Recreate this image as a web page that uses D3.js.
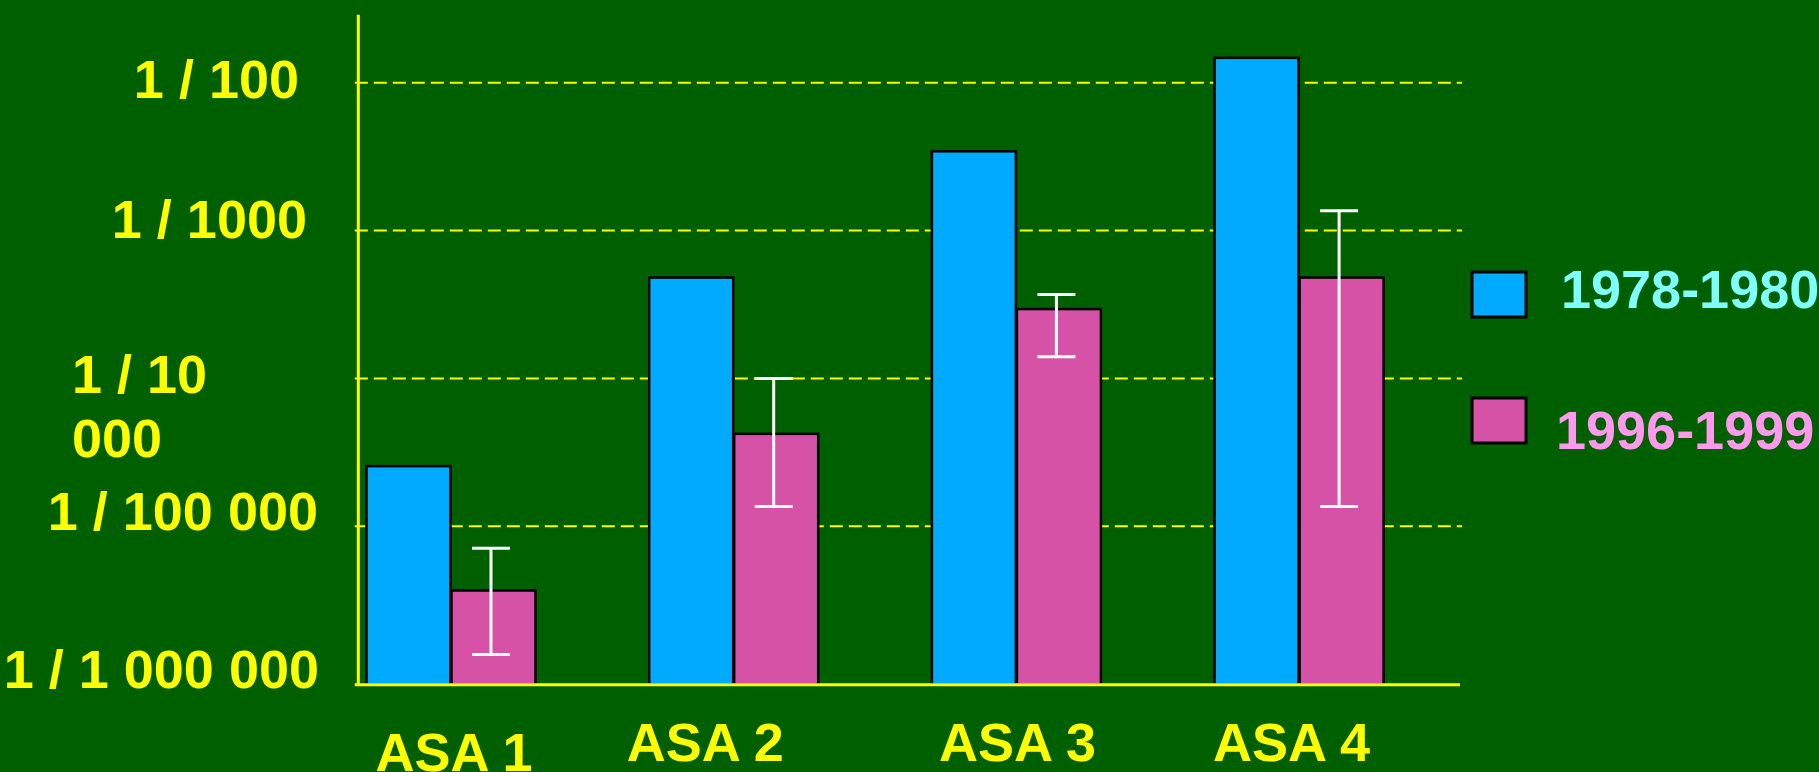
<!DOCTYPE html>
<html>
<head>
<meta charset="utf-8">
<script src="https://cdn.jsdelivr.net/npm/d3@7"></script>
<style>
  html, body { margin: 0; padding: 0; background: #006000; overflow: hidden; }
  svg { display: block; }
  text { font-family: "Liberation Sans", Arial, sans-serif; font-weight: bold; }
</style>
</head>
<body>
<svg id="chart" width="1819" height="772"></svg>
<script>
// ---- Data ----
const categories = ["ASA 1", "ASA 2", "ASA 3", "ASA 4"];
const seriesNames = ["1978-1980", "1996-1999"];
const values1978 = [2.6e-5, 4.9e-4, 3.5e-3, 1.5e-2];
const values1996 = [3.75e-6, 4.3e-5, 3.0e-4, 4.9e-4];
const errLow1996 = [1.36e-6, 1.36e-5, 1.4e-4, 1.36e-5];
const errHigh1996 = [7.1e-6, 1.0e-4, 3.7e-4, 1.36e-3];
const tickValues = [1e-2, 1e-3, 1e-4, 1e-5, 1e-6];
const tickLabels = [["1 / 100"], ["1 / 1000"], ["1 / 10", "000"], ["1 / 100 000"], ["1 / 1 000 000"]];

// ---- Layout / style ----
const colors = { bg: "#006000", axis: "#ffff00", s0: "#00aaff", s1: "#d652a6", err: "#ffffff",
                 leg0: "#80ffff", leg1: "#ff99ee" };
const fontSize = 54;
const plot = { left: 358.3, right: 1462, top: 14.8, bottom: 684.7 };
// per-tick label placement: [anchor, x, dy from tick]
const tickLabelLayout = [
  { anchor: "end", x: 299, dy: [15.6] },
  { anchor: "end", x: 307, dy: [7.3] },
  { anchor: "start", x: 72, dy: [15, 79] },
  { anchor: "end", x: 318, dy: [3.7] },
  { anchor: "end", x: 319, dy: [13.8] }
];
const catLabelDx = [3.5, -28, 1.7, -7];
const catLabelY = [771, 761, 761, 761];

const svg = d3.select("#chart");
svg.append("rect").attr("width", 1819).attr("height", 772).attr("fill", colors.bg);

// ---- Scales ----
const y = d3.scaleLog()
  .domain([Math.pow(10, -6.071), Math.pow(10, -1.541)])
  .range([plot.bottom, plot.top]);

const x = d3.scaleBand()
  .domain(categories)
  .range([365.5, 1383.6])
  .paddingInner(0.3987)
  .paddingOuter(0);

const xs = d3.scaleBand()
  .domain(seriesNames)
  .range([0, x.bandwidth()])
  .padding(0);

// ---- Gridlines ----
svg.append("g")
  .selectAll("line")
  .data(tickValues.slice(0, 4))
  .join("line")
  .attr("x1", plot.left - 3.5)
  .attr("x2", plot.right)
  .attr("y1", d => y(d))
  .attr("y2", d => y(d))
  .attr("stroke", colors.axis)
  .attr("stroke-width", 2)
  .attr("stroke-dasharray", "13,6");

// ---- Bars ----
const rows = categories.map((c, i) => ({
  cat: c,
  vals: [values1978[i], values1996[i]],
  lo: errLow1996[i],
  hi: errHigh1996[i]
}));
const seriesColors = [colors.s0, colors.s1];

const groups = svg.append("g").selectAll("g")
  .data(rows)
  .join("g")
  .attr("transform", d => `translate(${x(d.cat)},0)`);

groups.selectAll("rect")
  .data(d => d.vals.map((v, j) => ({ v, j })))
  .join("rect")
  .attr("x", d => xs(seriesNames[d.j]) + 1)
  .attr("width", xs.bandwidth() - 1)
  .attr("y", d => y(d.v) + 1.2)
  .attr("height", d => plot.bottom - y(d.v) - 1.2)
  .attr("fill", d => seriesColors[d.j])
  .attr("stroke", "#000")
  .attr("stroke-width", 2.5);

// ---- Error bars (second series) ----
const capHalf = 19;
groups.each(function (d) {
  const g = d3.select(this);
  const cx = xs(seriesNames[1]) + xs.bandwidth() / 2 - 2;
  g.append("line")
    .attr("x1", cx).attr("x2", cx)
    .attr("y1", y(d.hi)).attr("y2", y(d.lo))
    .attr("stroke", colors.err).attr("stroke-width", 3);
  [d.hi, d.lo].forEach(v => {
    g.append("line")
      .attr("x1", cx - capHalf).attr("x2", cx + capHalf)
      .attr("y1", y(v)).attr("y2", y(v))
      .attr("stroke", colors.err).attr("stroke-width", 3);
  });
});

// ---- Axes lines ----
svg.append("line")
  .attr("x1", plot.left).attr("x2", plot.left)
  .attr("y1", plot.top).attr("y2", plot.bottom)
  .attr("stroke", colors.axis).attr("stroke-width", 3);
svg.append("line")
  .attr("x1", plot.left - 3.5).attr("x2", plot.right - 2)
  .attr("y1", plot.bottom).attr("y2", plot.bottom)
  .attr("stroke", colors.axis).attr("stroke-width", 3);

// ---- Y tick labels ----
const yl = svg.append("g");
tickValues.forEach((t, i) => {
  const lay = tickLabelLayout[i];
  tickLabels[i].forEach((line, k) => {
    yl.append("text")
      .attr("x", lay.x)
      .attr("y", y(t) + lay.dy[k])
      .attr("text-anchor", lay.anchor)
      .attr("font-size", fontSize)
      .attr("fill", colors.axis)
      .text(line);
  });
});

// ---- Category labels ----
svg.append("g").selectAll("text")
  .data(categories)
  .join("text")
  .attr("x", (d, i) => x(d) + x.bandwidth() / 2 + catLabelDx[i])
  .attr("y", (d, i) => catLabelY[i])
  .attr("text-anchor", "middle")
  .attr("font-size", fontSize)
  .attr("fill", colors.axis)
  .text(d => d);

// ---- Legend ----
const legendItems = [
  { name: seriesNames[0], fill: colors.s0, text: colors.leg0, sy: 272, ty: 308.3, tx: 1561 },
  { name: seriesNames[1], fill: colors.s1, text: colors.leg1, sy: 398, ty: 449, tx: 1556 }
];
const leg = svg.append("g");
legendItems.forEach(it => {
  leg.append("rect")
    .attr("x", 1472).attr("y", it.sy)
    .attr("width", 54).attr("height", 45)
    .attr("fill", it.fill).attr("stroke", "#000").attr("stroke-width", 3);
  leg.append("text")
    .attr("x", it.tx).attr("y", it.ty)
    .attr("font-size", fontSize)
    .attr("fill", it.text)
    .text(it.name);
});
</script>
</body>
</html>
